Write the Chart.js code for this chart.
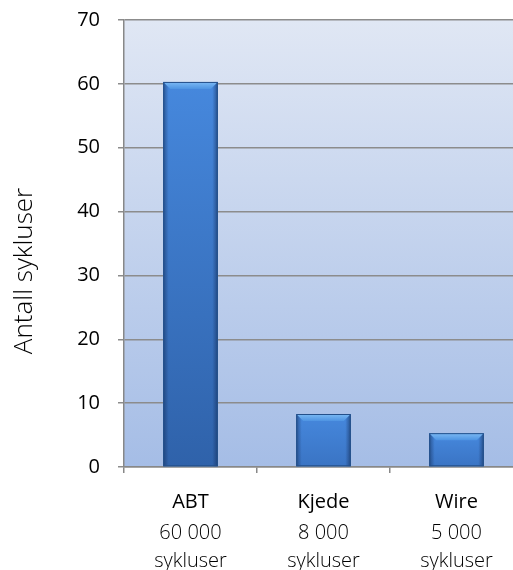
<!DOCTYPE html>
<html>
<head>
<meta charset="utf-8">
<script src="https://cdn.jsdelivr.net/npm/chart.js@4.4.1/dist/chart.umd.min.js"></script>
<style>
  html, body { margin: 0; padding: 0; background: #fff; overflow: hidden; }
  #wrap { width: 523px; height: 570px; position: relative; }
</style>
</head>
<body>
<div id="wrap"><canvas id="chart"></canvas></div>
<script>
// data
const categories = ['ABT', 'Kjede', 'Wire'];
const cycleLabels = ['60 000', '8 000', '5 000'];
const cycleValues = [60.3, 8.3, 5.3];
const yTicks = [0, 10, 20, 30, 40, 50, 60, 70];
const yTitle = 'Antall sykluser';

// bakgrunn i plottområdet
const plotBackground = {
    id: 'plotBackground',
    beforeDraw(chart) {
        const { ctx, chartArea: a } = chart;
        const g = ctx.createLinearGradient(0, a.top, 0, a.bottom);
        g.addColorStop(0, '#e0e7f4');
        g.addColorStop(1, '#a5bde6');
        ctx.save();
        ctx.fillStyle = g;
        ctx.fillRect(a.left, a.top, a.right - a.left, a.bottom - a.top);
        ctx.restore();
    }
};

// 3D-aktig skyggelegging på søylene
const barShade = {
    id: 'barShade',
    afterDatasetsDraw(chart) {
        const ctx = chart.ctx;
        chart.getDatasetMeta(0).data.forEach(bar => {
            const left = bar.x - bar.width / 2;
            const right = bar.x + bar.width / 2;
            const top = bar.y;
            const bottom = bar.base;
            const w = right - left, h = bottom - top;
            ctx.save();
            // lys topp, mørkere bunn
            const v = ctx.createLinearGradient(0, top, 0, bottom);
            v.addColorStop(0, '#4688dd');
            v.addColorStop(1, h > 100 ? '#2f62aa' : '#3a74c4');
            ctx.fillStyle = v;
            ctx.fillRect(left, top, w, h);
            // mørke kanter
            const g = ctx.createLinearGradient(left, 0, right, 0);
            g.addColorStop(0, 'rgba(20,45,90,0.55)');
            g.addColorStop(0.1, 'rgba(20,45,90,0)');
            g.addColorStop(0.9, 'rgba(20,45,90,0)');
            g.addColorStop(1, 'rgba(20,45,90,0.6)');
            ctx.fillStyle = g;
            ctx.fillRect(left, top, w, h);
            // topp-fas
            const bev = 7;
            const t = ctx.createLinearGradient(0, top, 0, top + bev);
            t.addColorStop(0, '#7cbaf4');
            t.addColorStop(1, '#4e94e2');
            ctx.fillStyle = t;
            ctx.beginPath();
            ctx.moveTo(left, top);
            ctx.lineTo(right, top);
            ctx.lineTo(right - bev, top + bev);
            ctx.lineTo(left + bev, top + bev);
            ctx.closePath();
            ctx.fill();
            ctx.strokeStyle = '#24508a';
            ctx.lineWidth = 1;
            ctx.strokeRect(left + 0.5, top + 0.5, w - 1, h - 1);
            ctx.restore();
        });
    }
};

// kategorinavn og aksetittel
const extraText = {
    id: 'extraText',
    afterDraw(chart) {
        const { ctx, scales: { x }, chartArea: a } = chart;
        ctx.save();
        ctx.font = '400 20px "Open Sans"';
        ctx.fillStyle = '#000';
        ctx.textAlign = 'center';
        ctx.textBaseline = 'middle';
        categories.forEach((c, i) => {
            ctx.fillText(c, x.getPixelForValue(i), a.bottom + 35);
        });
        ctx.translate(25, 271);
        ctx.rotate(-Math.PI / 2);
        ctx.font = '300 26px "Open Sans"';
        ctx.fillText(yTitle, 0, 0);
        ctx.restore();
    }
};

new Chart(document.getElementById('chart'), {
    type: 'bar',
    data: {
        labels: categories,
        datasets: [{
            data: cycleValues,
            backgroundColor: '#3a78c8',
            barPercentage: 0.41,
            categoryPercentage: 1
        }]
    },
    options: {
        responsive: true,
        maintainAspectRatio: false,
        animation: false,
        events: [],
        layout: { padding: { top: 20, right: 0, bottom: 0, left: 0 } },
        plugins: { legend: { display: false }, tooltip: { enabled: false } },
        scales: {
            x: {
                afterFit(scale) { scale.height = 103; scale.paddingLeft = 0; scale.paddingRight = 0; },
                grid: { display: true, drawOnChartArea: false, offset: true, color: '#888', lineWidth: 1.5, tickLength: 6 },
                border: { color: '#888', width: 1.5 },
                ticks: {
                    padding: 18,
                    color: '#000',
                    font: { family: 'Open Sans', size: 20, weight: 300, lineHeight: 1.4 },
                    callback: (v, i) => ['', cycleLabels[i], 'sykluser']
                }
            },
            y: {
                min: 0,
                max: 70,
                afterFit(scale) { scale.width = 124; scale.paddingTop = 0; scale.paddingBottom = 0; },
                afterBuildTicks(scale) { scale.ticks = yTicks.map(v => ({ value: v })); },
                grid: { color: '#8c8c8c', lineWidth: 1.5, tickLength: 6 },
                border: { color: '#888', width: 1.5 },
                ticks: {
                    padding: 18,
                    color: '#000',
                    font: { family: 'Open Sans', size: 20 }
                }
            }
        }
    },
    plugins: [plotBackground, barShade, extraText]
});
</script>
</body>
</html>
